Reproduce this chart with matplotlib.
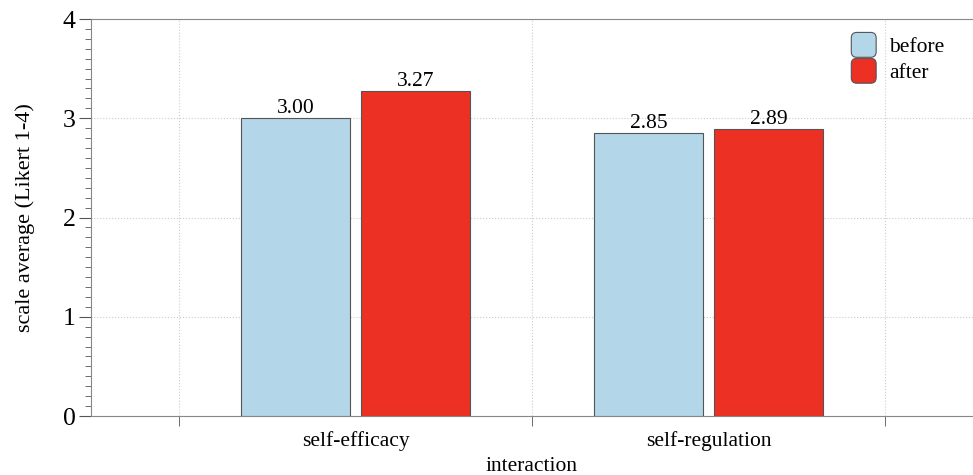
import matplotlib.pyplot as plt
from matplotlib.patches import FancyBboxPatch
from matplotlib.legend_handler import HandlerPatch
from matplotlib.container import BarContainer
import numpy as np

categories = ['self-efficacy', 'self-regulation']
before = [3.00, 2.85]
after = [3.27, 2.89]
series_names = ['before', 'after']
colors = ['#b3d6e8', '#ec3024']


class RoundHandler(HandlerPatch):
  def create_artists(self, legend, orig_handle, xdescent, ydescent, width, height, fontsize, trans):
    s = min(width, height)
    fc = orig_handle.patches[0].get_facecolor() if isinstance(orig_handle, BarContainer) else orig_handle.get_facecolor()
    p = FancyBboxPatch((-xdescent + (width - s) / 2, -ydescent + (height - s) / 2), s, s,
                       boxstyle='round,pad=0,rounding_size=%f' % (s * 0.22),
                       facecolor=fc, edgecolor='#555555', lw=0.8, transform=trans)
    return [p]


plt.rcParams['font.family'] = ['Liberation Serif', 'DejaVu Serif']
fig = plt.figure(figsize=(9.73, 4.75), dpi=100)
ax = fig.add_axes([0.0935, 0.1242, 0.9065, 0.8358])

x = np.arange(len(categories))
w = 0.31
off = 0.17
b1 = ax.bar(x - off, before, w, color=colors[0], edgecolor='#555555', lw=0.8, label=series_names[0], zorder=3)
b2 = ax.bar(x + off, after, w, color=colors[1], edgecolor='#555555', lw=0.8, label=series_names[1], zorder=3)
for bars in (b1, b2):
  for r in bars:
    ax.text(r.get_x() + r.get_width() / 2, r.get_height() + 0.005, '%.2f' % r.get_height(),
            ha='center', va='bottom', fontsize=15.5)

ax.set_xlim(-0.75, 1.75)
ax.set_ylim(0, 4)
ax.set_xticks(x)
ax.set_xticklabels(categories, fontsize=15.5)
ax.set_xticks([-0.5, 0.5, 1.5], minor=True)
ax.set_yticks([0, 1, 2, 3, 4])
ax.set_yticks(np.arange(0, 4.01, 0.1), minor=True)
ax.tick_params(axis='x', which='major', length=0, pad=11)
ax.tick_params(axis='x', which='minor', length=7, color='#555555')
ax.tick_params(axis='y', which='major', length=9, color='#555555', labelsize=18.5, pad=2)
ax.tick_params(axis='y', which='minor', length=4, color='#555555')
ax.grid(which='minor', axis='x', ls=':', color='#cccccc', lw=0.8)
ax.grid(which='major', axis='y', ls=':', color='#cccccc', lw=0.8)
ax.set_axisbelow(True)
for s in ['left', 'bottom', 'top']:
  ax.spines[s].set_color('#888888')
ax.spines['right'].set_visible(False)

ax.set_xlabel('interaction', fontsize=15.5, labelpad=4)
ax.set_ylabel('scale average (Likert 1-4)', fontsize=16, labelpad=20)
ax.legend(handler_map={BarContainer: RoundHandler()}, frameon=False, fontsize=15.5,
          loc='upper right', bbox_to_anchor=(0.99, 1.015), handlelength=1.5, handleheight=1.4,
          handletextpad=0.45, labelspacing=0.05, borderaxespad=0.5)

fig.savefig('out.png')
